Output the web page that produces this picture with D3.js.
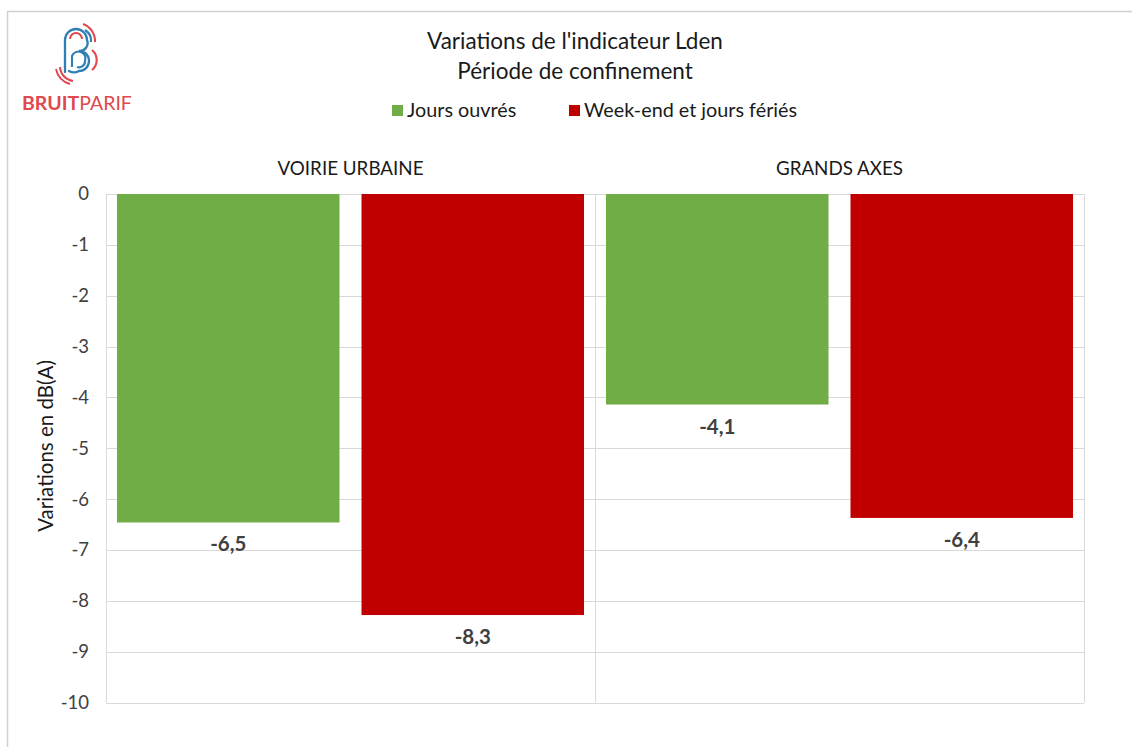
<!DOCTYPE html>
<html><head><meta charset="utf-8">
<script src="https://cdn.jsdelivr.net/npm/d3@7"></script>
<style>
html,body{margin:0;padding:0;background:#fff;}
svg{display:block;font-family:Lato,"Open Sans",sans-serif;}
</style></head>
<body><svg id="c" width="1132" height="747"></svg>
<script>
const categories = ["VOIRIE URBAINE", "GRANDS AXES"];
const seriesNames = ["Jours ouvrés", "Week-end et jours fériés"];
const seriesColors = ["#70ad47", "#c00000"];
const joursOuvres = [-6.46, -4.14];
const weekEnd = [-8.28, -6.37];
const yTicks = [0, -1, -2, -3, -4, -5, -6, -7, -8, -9, -10];
const titleLines = ["Variations de l'indicateur Lden", "Période de confinement"];
const yTitle = "Variations en dB(A)";

const svg = d3.select("#c");
svg.append("rect").attr("x",7.5).attr("y",11.5).attr("width",1140).attr("height",760)
  .attr("fill","#fff").attr("stroke","#d0d0d0").attr("stroke-width",1.5);

const L=106, R=1084, T=194, B=702.5;
const x0 = d3.scaleBand().domain(categories).range([L,R]).paddingInner(0).paddingOuter(0);
const x1 = d3.scaleBand().domain(seriesNames).range([0,x0.bandwidth()]).paddingInner(0.09).paddingOuter(0.045);
const y = d3.scaleLinear().domain([0,-10]).range([T,B]);

svg.append("g").selectAll("line").data(yTicks).join("line")
  .attr("x1",L).attr("x2",R).attr("y1",d=>Math.round(y(d))+0.5).attr("y2",d=>Math.round(y(d))+0.5)
  .attr("stroke","#d9d9d9").attr("stroke-width",1);
const seps=[L, x0(categories[1]), R];
svg.append("g").selectAll("line").data(seps).join("line")
  .attr("x1",d=>Math.round(d)+0.5).attr("x2",d=>Math.round(d)+0.5).attr("y1",T).attr("y2",B)
  .attr("stroke","#d9d9d9").attr("stroke-width",1);

const yAxis = d3.axisLeft(y).tickValues(yTicks).tickSize(0).tickPadding(0).tickFormat(d=>d3.format("d")(d).replace("−","-"));
const ga = svg.append("g").attr("transform",`translate(89,0)`).call(yAxis);
ga.select(".domain").remove();
ga.selectAll("text").attr("font-family","Lato").attr("font-size",18.5).attr("fill","#404040");

const data = [];
categories.forEach((c,i)=>{
  data.push({cat:c, s:seriesNames[0], v:joursOuvres[i], col:seriesColors[0]});
  data.push({cat:c, s:seriesNames[1], v:weekEnd[i], col:seriesColors[1]});
});
svg.append("g").selectAll("rect").data(data).join("rect")
  .attr("x",d=>x0(d.cat)+x1(d.s)).attr("width",x1.bandwidth())
  .attr("y",y(0)).attr("height",d=>y(d.v)-y(0)).attr("fill",d=>d.col);

svg.append("g").selectAll("text").data(data).join("text")
  .attr("x",d=>x0(d.cat)+x1(d.s)+x1.bandwidth()/2).attr("y",d=>y(d.v)+29)
  .attr("text-anchor","middle").attr("font-weight","bold").attr("font-size",20.5)
  .attr("fill","#404040").text(d=>d3.format(".1f")(d.v).replace("−","-").replace(".",","));

svg.append("g").selectAll("text").data(categories).join("text")
  .attr("x",d=>x0(d)+x0.bandwidth()/2).attr("y",175).attr("text-anchor","middle")
  .attr("font-size",18.8).attr("fill","#1a1a1a").text(d=>d);

svg.append("g").selectAll("text").data(titleLines).join("text")
  .attr("x",575).attr("y",(d,i)=>49+i*30).attr("text-anchor","middle")
  .attr("font-size",22.5).attr("fill","#1a1a1a").text(d=>d);

const legX=[392,569];
const lg = svg.append("g").selectAll("g").data(seriesNames).join("g")
  .attr("transform",(d,i)=>`translate(${legX[i]},105)`);
lg.append("rect").attr("width",11).attr("height",11).attr("fill",(d,i)=>seriesColors[i]);
lg.append("text").attr("x",15).attr("y",12).attr("font-size",19.8).attr("fill","#1a1a1a").text(d=>d);

svg.append("text").attr("transform","translate(53,446) rotate(-90)").attr("text-anchor","middle")
  .attr("font-size",20.5).attr("fill","#1a1a1a").text(yTitle);

const lgG = svg.append("g");
const blue="#2f7fb5", red="#e0484e";
lgG.append("path").attr("d","M65,72 L65,40 A11,11 0 0 1 87,40 A8,8 0 0 1 79,51 A10,10 0 0 1 79,71 A10,10 0 0 1 69,71")
  .attr("fill","none").attr("stroke",blue).attr("stroke-width",2.3).attr("stroke-linecap","round");
lgG.append("path").attr("d","M72,67 L72,56 A6,6 0 0 1 85,61 A6,6 0 0 1 77,67")
  .attr("fill","none").attr("stroke",blue).attr("stroke-width",2.1);
lgG.append("path").attr("d","M70,39 A6,6 0 0 1 82,39").attr("fill","none").attr("stroke",red).attr("stroke-width",2.1);
lgG.append("path").attr("d","M83,24 A18,18 0 0 1 95,42").attr("fill","none").attr("stroke",red).attr("stroke-width",2.1);
lgG.append("path").attr("d","M85,30 A13,13 0 0 1 91,42").attr("fill","none").attr("stroke",blue).attr("stroke-width",2.1);
lgG.append("path").attr("d","M60,67 A15,15 0 0 0 73,81").attr("fill","none").attr("stroke",red).attr("stroke-width",2.1);
lgG.append("path").attr("d","M56,69 A19,19 0 0 0 70,84").attr("fill","none").attr("stroke",red).attr("stroke-width",1.9);
lgG.append("path").attr("d","M92,50 A13,13 0 0 1 92,70").attr("fill","none").attr("stroke",red).attr("stroke-width",2.1);
const lt = svg.append("text").attr("x",22).attr("y",110).attr("font-size",19.5).attr("fill",red);
lt.append("tspan").attr("font-weight","bold").text("BRUIT");
lt.append("tspan").text("PARIF");
</script></body></html>
